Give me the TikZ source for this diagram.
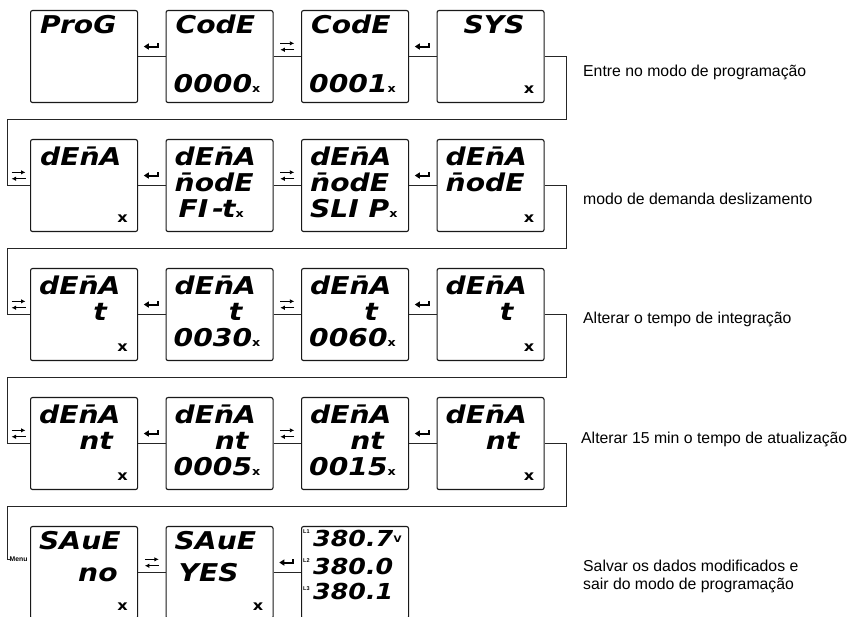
\documentclass[tikz,border=0pt]{standalone}
\usepackage{fontspec}
\setmainfont{Liberation Sans}
\newfontfamily\lcdfont[FakeStretch=1.15]{DejaVu Sans}
\usetikzlibrary{calc,arrows.meta}

% small unit letter after a reading
\newcommand\ux{{\fontsize{11}{11}\selectfont\upshape x}}
\newcommand\dena{dEn^^^^0304A}
\newcommand\nmode{n^^^^0304odE}

\tikzset{
  panel/.style={draw=black!90, line width=1.1pt, rounded corners=2pt,
    minimum width=107pt, minimum height=92pt, inner sep=0pt, anchor=north west},
  wire/.style={draw=black!85, line width=0.9pt},
  seg/.style={font=\lcdfont\bfseries\itshape\fontsize{24.5}{24}\selectfont,
    inner sep=0pt, anchor=base west},
  segv/.style={seg, font=\lcdfont\bfseries\itshape\fontsize{22}{22}\selectfont},
  unitmark/.style={font=\lcdfont\bfseries\fontsize{14}{14}\selectfont,
    inner sep=0pt, anchor=base east},
  phase/.style={font=\bfseries\fontsize{5.5}{5.5}\selectfont, inner sep=0pt, anchor=north west},
  note/.style={font=\fontsize{15.8}{18}\selectfont, inner sep=0pt, anchor=west, align=left},
  enterkey/.pic={
    \draw[line width=2pt] (6,-3.5) -- (6,0) -- (-3,0);
    \fill (-8,0) -- (-3,-3.2) -- (-3,3.2) -- cycle;},
  swapkey/.pic={
    \draw[line width=1.4pt,-{Latex[length=4.5pt,width=4.5pt]}] (-7,-3.2) -- (7,-3.2);
    \draw[line width=1.4pt,-{Latex[length=4.5pt,width=4.5pt]}] (7,3.2) -- (-7,3.2);},
}

% display text placed inside a panel, relative to its top-left corner
\newcommand\lcdl[5]{\node[seg] (#1) at ($(#2.north west)+(#3,#4)$) {#5};}
\newcommand\lcdr[5]{\node[seg, anchor=base east] (#1) at ($(#2.north west)+(#3,#4)$) {#5};}
\newcommand\lcdx[2]{\node[unitmark] (#1) at ($(#2.north west)+(98,84)$) {x};}

\begin{document}
\begin{tikzpicture}[x=1pt,y=-1pt]
\useasboundingbox (0,0) rectangle (852,617);

% panels, four per row
\foreach \r/\yy in {1/10,2/139,3/268,4/397}
  \foreach \c/\xx in {1/30,2/165.5,3/301,4/436.5}
    \node[panel] (b\r\c) at (\xx,\yy) {};
\foreach \c/\xx in {1/30,2/165.5,3/301}
  \node[panel] (b5\c) at (\xx,526) {};

% rail corners
\foreach \k/\yy in {1/119,2/248,3/377,4/506} {
  \coordinate (rR\k) at (566,\yy);
  \coordinate (rL\k) at (7,\yy);
}

% connectors inside each row
\foreach \r in {1,2,3,4} {
  \draw[wire] (b\r1.east) -- (b\r2.west);
  \draw[wire] (b\r2.east) -- (b\r3.west);
  \draw[wire] (b\r3.east) -- (b\r4.west);
  \pic at ($(b\r1.east)!0.5!(b\r2.west)+(0,-10)$) {enterkey};
  \pic at ($(b\r2.east)!0.5!(b\r3.west)+(0,-10)$) {swapkey};
  \pic at ($(b\r3.east)!0.5!(b\r4.west)+(0,-10)$) {enterkey};
}
\draw[wire] (b51.east) -- (b52.west);
\draw[wire] (b52.east) -- (b53.west);
\pic at ($(b51.east)!0.5!(b52.west)+(0,-10)$) {swapkey};
\pic at ($(b52.east)!0.5!(b53.west)+(0,-10)$) {enterkey};

% return rails between rows
\draw[wire] (b14.east) -| (rR1) -- (rL1) |- (b21.west);
\draw[wire] (b24.east) -| (rR2) -- (rL2) |- (b31.west);
\draw[wire] (b34.east) -| (rR3) -- (rL3) |- (b41.west);
\foreach \r in {2,3,4}
  \pic at ($(rL1|-b\r1.west)+(11.5,-10)$) {swapkey};
\node[font=\bfseries\fontsize{6.8}{6.8}\selectfont, inner sep=0pt, anchor=west]
  (menu) at (9.5,559) {Menu};
\draw[wire] (b44.east) -| (rR4) -- (rL4) |- (menu.west);

% row 1
\lcdl{t11a}{b11}{10}{24}{ProG}
\lcdl{t12a}{b12}{10}{24}{CodE}
\lcdl{t12c}{b12}{8}{83}{0000\ux}
\lcdl{t13a}{b13}{10}{24}{CodE}
\lcdl{t13c}{b13}{8}{83}{0001\ux}
\lcdl{t14a}{b14}{27}{24}{SYS}
\lcdx{x14}{b14}

% row 2
\lcdl{t21a}{b21}{10}{27}{\dena}
\lcdx{x21}{b21}
\lcdl{t22a}{b22}{9}{27}{\dena}
\lcdl{t22b}{b22}{9}{53}{\nmode}
\lcdl{t22c}{b22}{13}{79}{FI\,-\kern-2pt t\ux}
\lcdl{t23a}{b23}{9}{27}{\dena}
\lcdl{t23b}{b23}{9}{53}{\nmode}
\lcdl{t23c}{b23}{9}{79}{SLI P\ux}
\lcdl{t24a}{b24}{9}{27}{\dena}
\lcdl{t24b}{b24}{9}{53}{\nmode}
\lcdx{x24}{b24}

% row 3
\foreach \c in {1,2,3,4} {
  \lcdl{t3\c a}{b3\c}{9}{27}{\dena}
  \lcdr{t3\c b}{b3\c}{77}{53}{t}
}
\lcdx{x31}{b31}
\lcdl{t32c}{b32}{8}{79}{0030\ux}
\lcdl{t33c}{b33}{8}{79}{0060\ux}
\lcdx{x34}{b34}

% row 4
\foreach \c in {1,2,3,4} {
  \lcdl{t4\c a}{b4\c}{9}{27}{\dena}
  \lcdr{t4\c b}{b4\c}{83}{53}{nt}
}
\lcdx{x41}{b41}
\lcdl{t42c}{b42}{8}{79}{0005\ux}
\lcdl{t43c}{b43}{8}{79}{0015\ux}
\lcdx{x44}{b44}

% row 5
\lcdl{t51a}{b51}{9}{23}{SAuE}
\lcdl{t51b}{b51}{48}{55}{no}
\lcdx{x51}{b51}
\lcdl{t52a}{b52}{9}{23}{SAuE}
\lcdl{t52b}{b52}{13}{55}{YES}
\lcdx{x52}{b52}
\node[segv] (v1) at ($(b53.north west)+(12,21)$) {380.7};
\node[font=\lcdfont\bfseries\fontsize{9}{9}\selectfont, inner sep=0pt, anchor=base west]
  (vu) at (v1.base east) [yshift=4pt] {V};
\node[segv] (v2) at ($(b53.north west)+(12,48)$) {380.0};
\node[segv] (v3) at ($(b53.north west)+(12,73)$) {380.1};
\node[phase] (p1) at ($(b53.north west)+(2,4)$) {L1};
\node[phase] (p2) at ($(b53.north west)+(2,32)$) {L2};
\node[phase] (p3) at ($(b53.north west)+(2,60)$) {L3};

% step descriptions
\node[note] (n1) at (583,72) {Entre no modo de programação};
\node[note] (n2) at (583,199) {modo de demanda deslizamento};
\node[note] (n3) at (583,319) {Alterar o tempo de integração};
\node[note] (n4) at (581,439) {Alterar 15 min o tempo de atualização};
\node[note] (n5) at (583,576) {Salvar os dados modificados e\\sair do modo de programação};
\end{tikzpicture}
\end{document}
